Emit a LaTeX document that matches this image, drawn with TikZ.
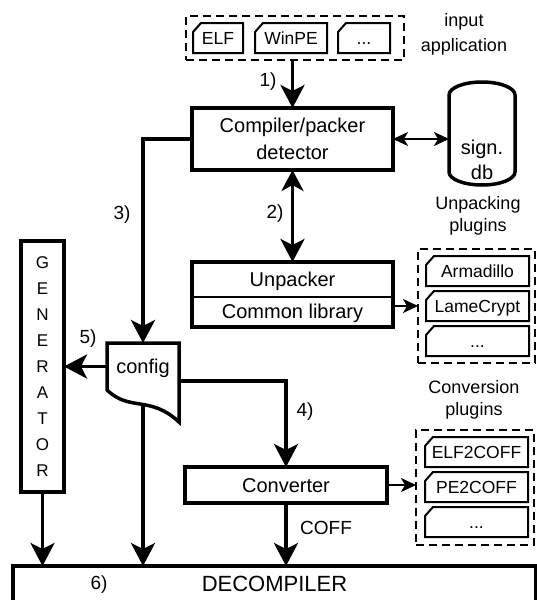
\documentclass[tikz,border=0pt]{standalone}
\usepackage{fontspec}
\setmainfont{Liberation Sans}
\usetikzlibrary{arrows.meta,calc,backgrounds}
\newcommand{\fs}[2]{\fontsize{#1}{#2}\selectfont}
\newcommand{\plug}[5]{%
  \node[plugtext, minimum width=#4pt, minimum height=30pt] (#1) at (#2,#3) {#5};
  \draw[plugline] ($(#1.north west)+(8,0)$) -- (#1.north east) -- (#1.south east) -- (#1.south west) -- ($(#1.north west)+(0,9)$) -- cycle;}
\tikzset{
  box/.style={draw, line width=3.5pt, inner sep=0pt, outer sep=0pt, align=center},
  dashbox/.style={draw, line width=2pt, dash pattern=on 8pt off 5pt, inner sep=0pt, outer sep=0pt},
  plugtext/.style={inner sep=0pt, outer sep=0pt, font=\fs{17.5}{21}, text height=12.6pt, text depth=0pt},
  plugline/.style={line width=2pt, line join=miter},
  lbl/.style={inner sep=0pt, outer sep=0pt, font=\fs{19}{22}, text height=13.7pt, text depth=0pt},
  bigarr/.style={line width=3.5pt, -{Stealth[length=23pt,width=24pt,inset=6pt]}},
  bigdbl/.style={line width=3.5pt, {Stealth[length=21pt,width=22pt,inset=6pt]}-{Stealth[length=23pt,width=24pt,inset=6pt]}},
  smallarr/.style={line width=2pt, -{Stealth[length=15pt,width=14pt,inset=4pt]}},
  smalldbl/.style={line width=2pt, {Stealth[length=15pt,width=14pt,inset=4pt]}-{Stealth[length=15pt,width=14pt,inset=4pt]}},
}
\begin{document}
\begin{tikzpicture}[x=1pt,y=-1pt]
\useasboundingbox (0,0) rectangle (537,600);

% input application
\node[dashbox, minimum width=218pt, minimum height=44pt] (inbox) at (295,38) {};
\plug{elf}{218}{38}{50}{ELF}
\plug{winpe}{291}{38}{72}{WinPE}
\plug{indots}{364}{38}{52}{...}
\node[inner sep=0pt, align=center, font=\fs{18}{25}] (intxt) at (464,34.5) {input\\application};

% compiler / packer detector
\node[box, minimum width=201pt, minimum height=62pt, font=\fs{20}{27}] (comp) at (292.5,139) {Compiler/packer\\detector};

% signature db
\draw[line width=3.5pt] (449,95) .. controls (449,87.8) and (463.8,82) .. (482,82)
  .. controls (500.2,82) and (515,87.8) .. (515,95) -- (515,172)
  .. controls (515,179.2) and (500.2,185) .. (482,185)
  .. controls (463.8,185) and (449,179.2) .. (449,172) -- cycle;
\node[inner sep=0pt, outer sep=0pt, minimum width=66pt, align=center, font=\fs{20}{25}] (db) at (482,159.5) {sign.\\db};

% unpacker
\node[box, minimum width=201pt, minimum height=65pt] (unp) at (292.5,294.5) {};
\draw[line width=1.5pt] (unp.west |- 0,297) -- (unp.east |- 0,297);
\node[lbl, font=\fs{20}{24}, text height=14.4pt] (unptxt) at (292.5,279) {Unpacker};
\node[lbl, font=\fs{20}{24}, text height=14.4pt] (libtxt) at (292.5,311.5) {Common library};

% unpacking plugins
\node[inner sep=0pt, align=center, font=\fs{18}{22}] (uptxt) at (478,216) {Unpacking\\plugins};
\node[dashbox, minimum width=117pt, minimum height=114pt] (ubox) at (476.5,306) {};
\plug{arm}{477.5}{271}{103}{Armadillo}
\plug{lame}{477.5}{306}{103}{LameCrypt}
\plug{udots}{477.5}{341}{103}{...}

% generator
\node[box, minimum width=43pt, minimum height=251pt, font=\fs{17}{26}] (gen) at (42.5,366.5) {G\\E\\N\\E\\R\\A\\T\\O\\R};

% config
\node[inner sep=0pt, outer sep=0pt, minimum width=72pt, minimum height=50pt, font=\fs{20}{24}] (config) at (143,368) {config};

% converter
\node[box, minimum width=202pt, minimum height=36pt, font=\fs{20}{24}, text height=14.4pt, text depth=0pt] (conv) at (286,485) {Converter};

% conversion plugins
\node[inner sep=0pt, align=center, font=\fs{18}{22}] (cptxt) at (474,400) {Conversion\\plugins};
\node[dashbox, minimum width=118pt, minimum height=115pt] (cbox) at (475,487.5) {};
\plug{elfc}{476.5}{452}{103}{ELF2COFF}
\plug{pec}{476.5}{487}{103}{PE2COFF}
\plug{cdots}{476.5}{522}{103}{...}

% decompiler
\node[box, minimum width=523pt, minimum height=36pt, font=\fs{22}{26}, text height=15.8pt, text depth=0pt] (dec) at (274.5,584) {DECOMPILER};

% labels
\node[lbl] (l1) at (268,80) {1)};
\node[lbl] (l2) at (275,212) {2)};
\node[lbl] (l3) at (122,213) {3)};
\node[lbl] (l4) at (305,410) {4)};
\node[lbl] (l5) at (88,337) {5)};
\node[lbl] (l6) at (99,583) {6)};
\node[lbl] (lcoff) at (326,528) {COFF};

% connectors
\draw[bigarr] (comp.north |- inbox.south) -- (comp.north);
\draw[smalldbl] (comp.east) -- (comp.east -| db.west);
\draw[bigdbl] (comp.south) -- (comp.south |- unp.north);
\draw[bigarr] (comp.west) -| (config.north);
\draw[smallarr] (unp.east |- lame.west) -- (ubox.west |- lame.west);
\draw[bigarr] (config.west |- gen.east) -- (gen.east);
\draw[bigarr] ($(config.east)+(0,13)$) -| (conv.north);
\draw[smallarr] (conv.east) -- (conv.east -| cbox.west);
\draw[bigarr] (gen.south) -- (gen.south |- dec.north);
\draw[bigarr] (conv.south) -- (conv.south |- dec.north);

\begin{scope}[on background layer]
  \draw[bigarr] (config.center) -- (config.center |- dec.north);
  \draw[line width=3.5pt, fill=white, line join=miter] (config.north west) -- (config.north east)
    -- ($(config.north east)+(0,79)$)
    .. controls ($(config.north east)+(-29,52)$) and ($(config.north west)+(23,69)$) .. ($(config.north west)+(0,47)$)
    -- cycle;
\end{scope}
\end{tikzpicture}
\end{document}
